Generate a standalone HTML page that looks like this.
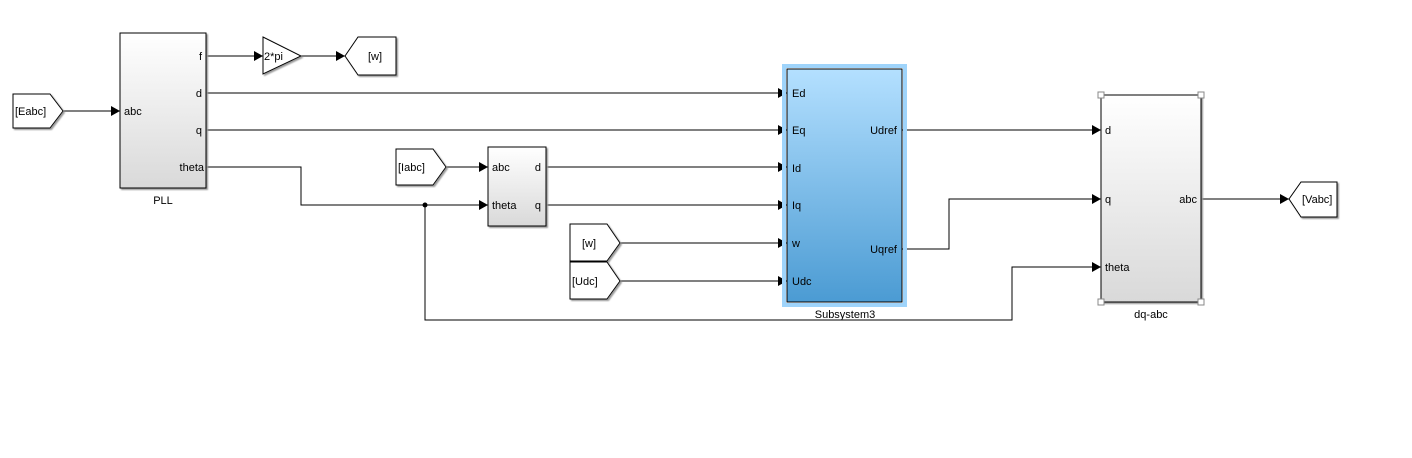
<!DOCTYPE html>
<html><head><meta charset="utf-8"><style>
html,body{margin:0;padding:0;background:#fff;}
svg{display:block;font-family:"Liberation Sans",Arial,sans-serif;font-size:11px;}
</style></head><body>
<svg width="1412" height="458" viewBox="0 0 1412 458" xmlns="http://www.w3.org/2000/svg">
<defs>
<linearGradient id="gw" x1="0" y1="0" x2="0" y2="1"><stop offset="0" stop-color="#ffffff"/><stop offset="1" stop-color="#d9d9d9"/></linearGradient>
<linearGradient id="gb" x1="0" y1="0" x2="0" y2="1"><stop offset="0" stop-color="#b4e0ff"/><stop offset="1" stop-color="#4b9bd3"/></linearGradient>
<marker id="ar" markerWidth="10" markerHeight="10" refX="9" refY="5" orient="auto" markerUnits="userSpaceOnUse"><path d="M0,0 L9,5 L0,10 z" fill="#000"/></marker>
<filter id="sh"><feDropShadow dx="1.5" dy="1.5" stdDeviation="0.8" flood-color="#999"/></filter>
</defs>
<g fill="none" stroke="#000" stroke-width="1">
<!-- lines -->
<path d="M63,111 H120" marker-end="url(#ar)"/>
<path d="M206,56 H263" marker-end="url(#ar)"/>
<path d="M301,56 H345" marker-end="url(#ar)"/>
<path d="M206,93 H787" marker-end="url(#ar)"/>
<path d="M206,130 H787" marker-end="url(#ar)"/>
<path d="M206,167 H301 V205 H488" marker-end="url(#ar)"/>
<path d="M425,205 V320 H1012 V267 H1101" marker-end="url(#ar)"/>
<path d="M446,167 H488" marker-end="url(#ar)"/>
<path d="M546,167 H787" marker-end="url(#ar)"/>
<path d="M546,205 H787" marker-end="url(#ar)"/>
<path d="M620,243 H787" marker-end="url(#ar)"/>
<path d="M620,281 H787" marker-end="url(#ar)"/>
<path d="M902,130 H1101" marker-end="url(#ar)"/>
<path d="M902,249 H949 V199 H1101" marker-end="url(#ar)"/>
<path d="M1201,199 H1289" marker-end="url(#ar)"/>
</g>
<circle cx="425" cy="205" r="2.5" fill="#000"/>
<!-- blocks -->
<g stroke="#000" stroke-width="1" filter="url(#sh)">
<path d="M13,94 H50 L63,111 L50,128 H13 Z" fill="#fff"/>
<rect x="120" y="33" width="86" height="155" fill="url(#gw)"/>
<path d="M263,37 L301,56 L263,74 Z" fill="#fff"/>
<path d="M345,56 L358,37 H396 V75 H358 Z" fill="#fff"/>
<path d="M396,149 H433 L446,167 L433,185 H396 Z" fill="#fff"/>
<rect x="488" y="147" width="58" height="79" fill="url(#gw)"/>
<path d="M570,224 H607 L620,243 L607,261 H570 Z" fill="#fff"/>
<path d="M570,262 H607 L620,281 L607,299 H570 Z" fill="#fff"/>
<rect x="1101" y="95" width="100" height="207" fill="url(#gw)"/>
<path d="M1289,199 L1301,182 H1337 V217 H1301 Z" fill="#fff"/>
</g>
<rect x="784" y="66" width="121" height="239" fill="none" stroke="#9fd4fb" stroke-width="4"/>
<rect x="787" y="69" width="115" height="233" fill="url(#gb)" stroke="#000"/>
<!-- selection handles -->
<g fill="#fff" stroke="#888" stroke-width="1">
<rect x="1098" y="92" width="6" height="6"/><rect x="1198" y="92" width="6" height="6"/>
<rect x="1098" y="299" width="6" height="6"/><rect x="1198" y="299" width="6" height="6"/>
</g>
<!-- text -->
<g fill="#000">
<text x="15" y="115">[Eabc]</text>
<text x="124" y="115">abc</text>
<text x="202" y="60" text-anchor="end">f</text>
<text x="202" y="97" text-anchor="end">d</text>
<text x="202" y="134" text-anchor="end">q</text>
<text x="204" y="171" text-anchor="end">theta</text>
<text x="163" y="204" text-anchor="middle">PLL</text>
<text x="264" y="60">2*pi</text>
<text x="375" y="60" text-anchor="middle">[w]</text>
<text x="398" y="171">[Iabc]</text>
<text x="492" y="171">abc</text>
<text x="492" y="209">theta</text>
<text x="541" y="171" text-anchor="end">d</text>
<text x="541" y="209" text-anchor="end">q</text>
<text x="589" y="247" text-anchor="middle">[w]</text>
<text x="572" y="285">[Udc]</text>
<text x="792" y="97">Ed</text>
<text x="792" y="134">Eq</text>
<text x="792" y="172">Id</text>
<text x="792" y="209">Iq</text>
<text x="792" y="247">w</text>
<text x="792" y="285">Udc</text>
<text x="897" y="134" text-anchor="end">Udref</text>
<text x="897" y="253" text-anchor="end">Uqref</text>
<text x="845" y="318" text-anchor="middle">Subsystem3</text>
<text x="1105" y="134">d</text>
<text x="1105" y="203">q</text>
<text x="1105" y="271">theta</text>
<text x="1197" y="203" text-anchor="end">abc</text>
<text x="1151" y="318" text-anchor="middle">dq-abc</text>
<text x="1302" y="203">[Vabc]</text>
</g>
</svg>
</body></html>
